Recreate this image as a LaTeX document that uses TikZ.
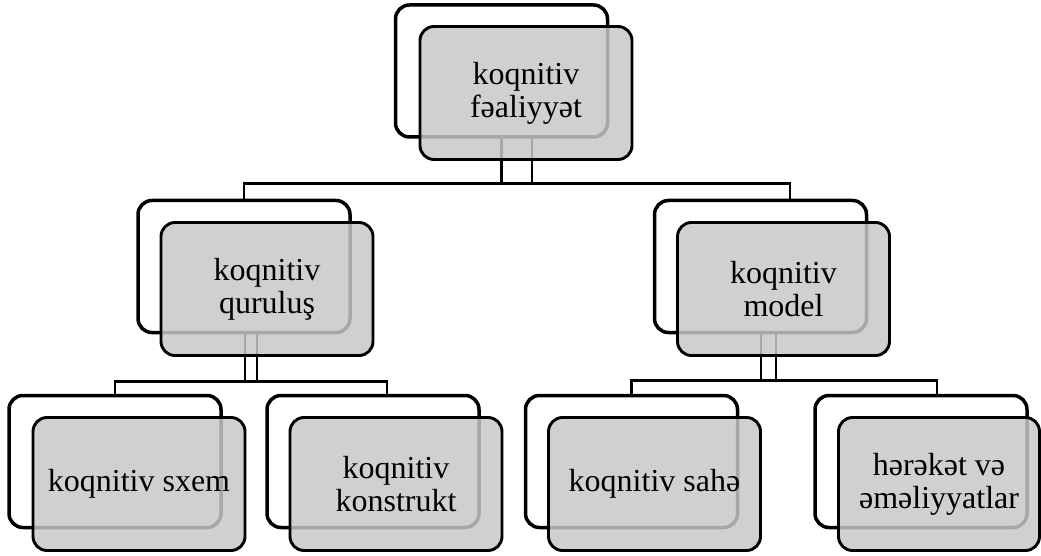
\documentclass[tikz,border=0pt]{standalone}
\usepackage{fontspec}
\setmainfont{Liberation Serif}
\begin{document}
\begin{tikzpicture}[x=1pt,y=-1pt,
  backbox/.style={draw=black,line width=3.5pt,fill=white,rounded corners=14pt,
    minimum width=212pt,minimum height=132pt,inner sep=0pt},
  frontbox/.style={draw=black,line width=2.9pt,fill={rgb,255:red,199;green,199;blue,199},fill opacity=0.84,
    text opacity=1,rounded corners=14pt,minimum width=212pt,minimum height=133pt,inner sep=0pt,
    align=center,font=\fontsize{32}{33}\selectfont},
  conn/.style={draw=black,line width=2.5pt}]
\useasboundingbox (0,0) rectangle (1041,556);
% back frames
\node[backbox] (t0) at (501.5,71) {};
\node[backbox] (l0) at (244,266.5) {};
\node[backbox] (r0) at (760.5,266.5) {};
\node[backbox] (c10) at (115,461.5) {};
\node[backbox] (c20) at (373,461.5) {};
\node[backbox] (c30) at (631.5,461.5) {};
\node[backbox] (c40) at (921,461.5) {};
% connectors
\coordinate (b1) at (0,183.5);
\coordinate (b2) at (0,381.5);
\coordinate (b3) at (0,380.5);
\draw[conn] (t0.south) -- (t0.south |- b1) -| (l0.north);
\draw[conn] ([xshift=30.5pt]t0.south) |- (t0.south |- b1);
\draw[conn] ([xshift=30.5pt]t0.south) |- ([xshift=29.5pt]r0.north |- b1) -- ([xshift=29.5pt]r0.north);
\draw[conn] ([xshift=1pt]l0.south) -- ([xshift=1pt]l0.south |- b2) -| (c10.north);
\draw[conn] ([xshift=13pt]l0.south) |- ([xshift=1pt]l0.south |- b2);
\draw[conn] ([xshift=13pt]l0.south) |- ([xshift=14pt]c20.north |- b2) -- ([xshift=14pt]c20.north);
\draw[conn] ([xshift=0.5pt]r0.south) -- ([xshift=0.5pt]r0.south |- b3) -| (c30.north);
\draw[conn] ([xshift=15.5pt]r0.south) |- ([xshift=0.5pt]r0.south |- b3);
\draw[conn] ([xshift=15.5pt]r0.south) |- ([xshift=16pt]c40.north |- b3) -- ([xshift=16pt]c40.north);
% front boxes
\node[frontbox] (t) at (526,93) {koqnitiv\\fəaliyyət};
\node[frontbox] (l) at (267,289) {koqnitiv\\quruluş};
\node[frontbox] (r) at (783.5,289) {koqnitiv\\model};
\node[frontbox] (c1) at (139,484) {koqnitiv sxem};
\node[frontbox] (c2) at (396,484) {koqnitiv\\konstrukt};
\node[frontbox] (c3) at (654.5,484) {koqnitiv sahə};
\node[frontbox,minimum width=201pt] (c4) at (939,484) {hərəkət və\\əməliyyatlar};
\end{tikzpicture}
\end{document}
